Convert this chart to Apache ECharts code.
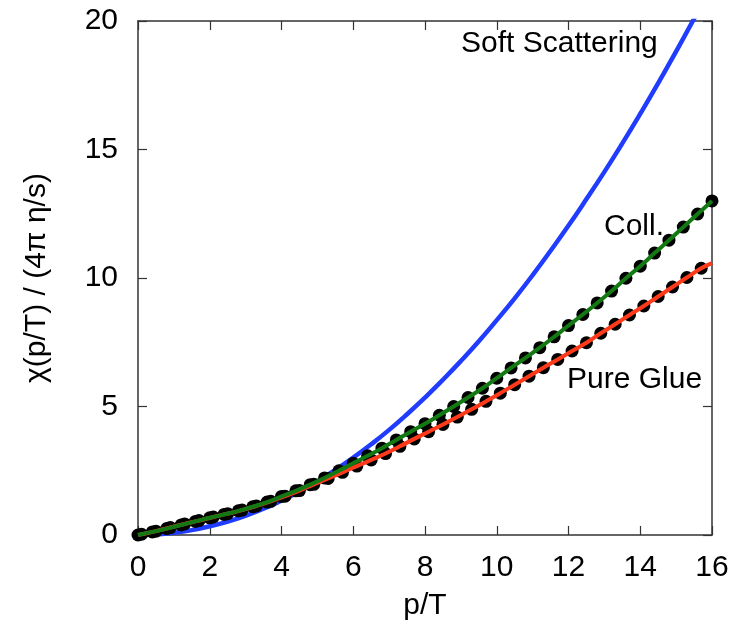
<!DOCTYPE html>
<html>
<head>
<meta charset="utf-8">
<script src="https://cdn.jsdelivr.net/npm/echarts@6/dist/echarts.min.js"></script>
<style>html,body{margin:0;padding:0;background:#fff}#c{width:740px;height:626px}</style>
</head>
<body>
<div id="c"></div>
<script>
// Soft scattering (blue curve)
const softX = [0,0.5,1,1.5,2,2.5,3,3.5,4,4.5,5,5.5,6,6.5,7,7.5,8,8.5,9,9.5,10,10.5,11,11.5,12,12.5,13,13.5,14,14.5,15,15.5,16];
const softY = [0,0.02,0.09,0.19,0.34,0.52,0.75,1.02,1.34,1.69,2.09,2.53,3.01,3.53,4.09,4.70,5.35,6.04,6.77,7.54,8.36,9.21,10.11,11.06,12.04,13.07,14.13,15.24,16.39,17.58,18.82,20.09,21.4];
// Collinear (green curve with black points)
const collX = [0,0.4,0.8,1.2,1.6,2.0,2.4,2.8,3.2,3.6,4.0,4.4,4.8,5.2,5.6,6.0,6.4,6.8,7.2,7.6,8.0,8.4,8.8,9.2,9.6,10.0,10.4,10.8,11.2,11.6,12.0,12.4,12.8,13.2,13.6,14.0,14.4,14.8,15.2,15.6,16.0];
const collY = [0,0.12,0.25,0.39,0.53,0.67,0.80,0.94,1.10,1.28,1.50,1.72,1.96,2.22,2.50,2.79,3.08,3.38,3.70,4.02,4.33,4.66,5.00,5.35,5.71,6.10,6.50,6.89,7.29,7.71,8.15,8.58,9.03,9.49,9.99,10.46,10.97,11.47,11.98,12.49,13.00];
// Pure glue (red curve with black points)
const glueX = [0.1,0.5,0.9,1.3,1.7,2.1,2.5,2.9,3.3,3.7,4.1,4.5,4.9,5.3,5.7,6.1,6.5,6.9,7.3,7.7,8.1,8.5,8.9,9.3,9.7,10.1,10.5,10.9,11.3,11.7,12.1,12.5,12.9,13.3,13.7,14.1,14.5,14.9,15.3,15.7];
const glueY = [0.03,0.15,0.29,0.43,0.56,0.70,0.83,0.97,1.13,1.31,1.51,1.73,1.97,2.20,2.44,2.68,2.92,3.17,3.45,3.74,4.02,4.30,4.59,4.89,5.20,5.52,5.85,6.18,6.51,6.83,7.16,7.48,7.85,8.20,8.56,8.91,9.28,9.65,10.02,10.38];
const glueLineX = [0].concat(glueX, [16]);
const glueLineY = [0].concat(glueY, [10.58]);

const xTicks = [0,2,4,6,8,10,12,14,16];
const yTicks = [0,5,10,15,20];

const zip = (xs, ys) => xs.map((x, i) => [x, ys[i]]);
const FONT = "'Liberation Sans', Arial, Helvetica, sans-serif";
const axisLine = {show: true, onZero: false, lineStyle: {color: '#333', width: 1.5}};
const tick = {show: true, inside: true, length: 9, lineStyle: {color: '#333', width: 1.2}};
const FS = 30;

const chart = echarts.init(document.getElementById('c'));
chart.setOption({
  animation: false,
  backgroundColor: '#fff',
  grid: {left: 138, right: 28, top: 21, bottom: 90},
  xAxis: [
    {type: 'value', min: xTicks[0], max: xTicks[xTicks.length-1], interval: 2, position: 'bottom',
     axisLine, axisTick: tick, splitLine: {show: false},
     axisLabel: {fontSize: FS, color: '#000', fontFamily: FONT, margin: 18},
     name: 'p/T', nameLocation: 'middle', nameGap: 56,
     nameTextStyle: {fontSize: FS, color: '#000', fontFamily: FONT}},
    {type: 'value', min: 0, max: 16, interval: 2, position: 'top',
     axisLine, axisTick: tick, splitLine: {show: false}, axisLabel: {show: false}}
  ],
  yAxis: [
    {type: 'value', min: yTicks[0], max: yTicks[yTicks.length-1], interval: 5, position: 'left',
     axisLine, axisTick: tick, splitLine: {show: false},
     axisLabel: {fontSize: FS, color: '#000', fontFamily: FONT, margin: 20},
     name: 'χ(p/T) / (4π η/s)', nameLocation: 'middle', nameGap: 86,
     nameTextStyle: {fontSize: FS, color: '#000', fontFamily: FONT}},
    {type: 'value', min: 0, max: 20, interval: 5, position: 'right',
     axisLine, axisTick: tick, splitLine: {show: false}, axisLabel: {show: false}}
  ],
  series: [
    {type: 'line', data: zip(softX, softY), smooth: true, showSymbol: false,
     lineStyle: {color: '#1f3cff', width: 4.5}, clip: true, z: 2},
    {type: 'scatter', data: zip(collX, collY), symbolSize: 13,
     itemStyle: {color: '#000', opacity: 1}, z: 3},
    {type: 'scatter', data: zip(glueX, glueY), symbolSize: 13,
     itemStyle: {color: '#000', opacity: 1}, z: 3},
    {type: 'line', data: zip(glueLineX, glueLineY), smooth: true, showSymbol: false,
     lineStyle: {color: '#ff3a1a', width: 4}, z: 4},
    {type: 'line', data: zip(collX, collY), smooth: true, showSymbol: false,
     lineStyle: {color: '#137a13', width: 4}, z: 5}
  ],
  graphic: [
    {type: 'text', left: 461, top: 29, style: {text: 'Soft Scattering', fontSize: FS, fill: '#000', fontFamily: FONT}},
    {type: 'text', left: 604, top: 212, style: {text: 'Coll.', fontSize: FS, fill: '#000', fontFamily: FONT}},
    {type: 'text', left: 567, top: 365, style: {text: 'Pure Glue', fontSize: FS, fill: '#000', fontFamily: FONT}}
  ]
});
</script>
</body>
</html>
